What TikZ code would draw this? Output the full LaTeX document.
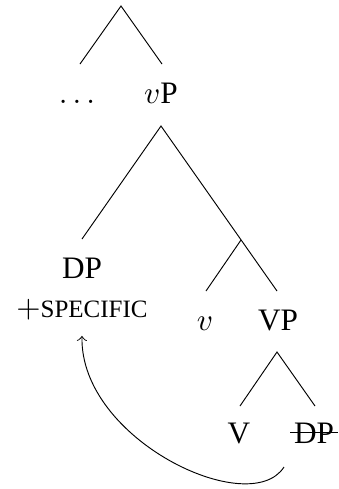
\documentclass[tikz,border=0pt]{standalone}
\usepackage{fontspec}
\setmainfont{Liberation Serif}
\usepackage{tikz}

\tikzset{
    label/.style={anchor=base, inner sep=0pt},
    branch/.style={line width=0.3pt},
    movement/.style={->, line width=0.3pt}
}

\begin{document}
\begin{tikzpicture}[x=0.32pt, y=-0.32pt]
    \useasboundingbox (0,0) rectangle (338,489);

    % branch points
    \coordinate (topApex) at (121,6);
    \coordinate (dotsTop) at (80,64);
    \coordinate (vPTop) at (162,64);
    \coordinate (vPApex) at (161,126);
    \coordinate (subjTop) at (82,239);
    \coordinate (vBarApex) at (241,240);
    \coordinate (vTop) at (206,291);
    \coordinate (VPTop) at (277,291);
    \coordinate (VPApex) at (277,352);
    \coordinate (VTop) at (240,406);
    \coordinate (objTop) at (315,406);
    \coordinate (traceEnd) at (284,467);

    % labels
    \node[label] (dots) at (77,103) {$\ldots$};
    \node[label] (vP) at (161,103) {$v$P};
    \node[label] (subj) at (82,278) {DP};
    \node[label] (spec) at (82,317) {$+${\fontsize{8}{9.6}\selectfont SPECIFIC}};
    \node[label] (v) at (205,330) {$v$};
    \node[label] (VP) at (278,330) {VP};
    \node[label] (V) at (239,443) {V};
    \node[label] (obj) at (314,443) {DP};

    % tree
    \draw[branch] (dotsTop) -- (topApex) -- (vPTop);
    \draw[branch] (subjTop) -- (vPApex) -- (VPTop);
    \draw[branch] (vBarApex) -- (vTop);
    \draw[branch] (VTop) -- (VPApex) -- (objTop);

    % struck-out copy
    \draw[branch] ([xshift=-1pt]obj.west) -- ([xshift=1pt]obj.east);

    % movement
    \draw[movement] (traceEnd) .. controls (250,520) and (80,440) .. ([yshift=-5pt]spec.south);
\end{tikzpicture}
\end{document}
